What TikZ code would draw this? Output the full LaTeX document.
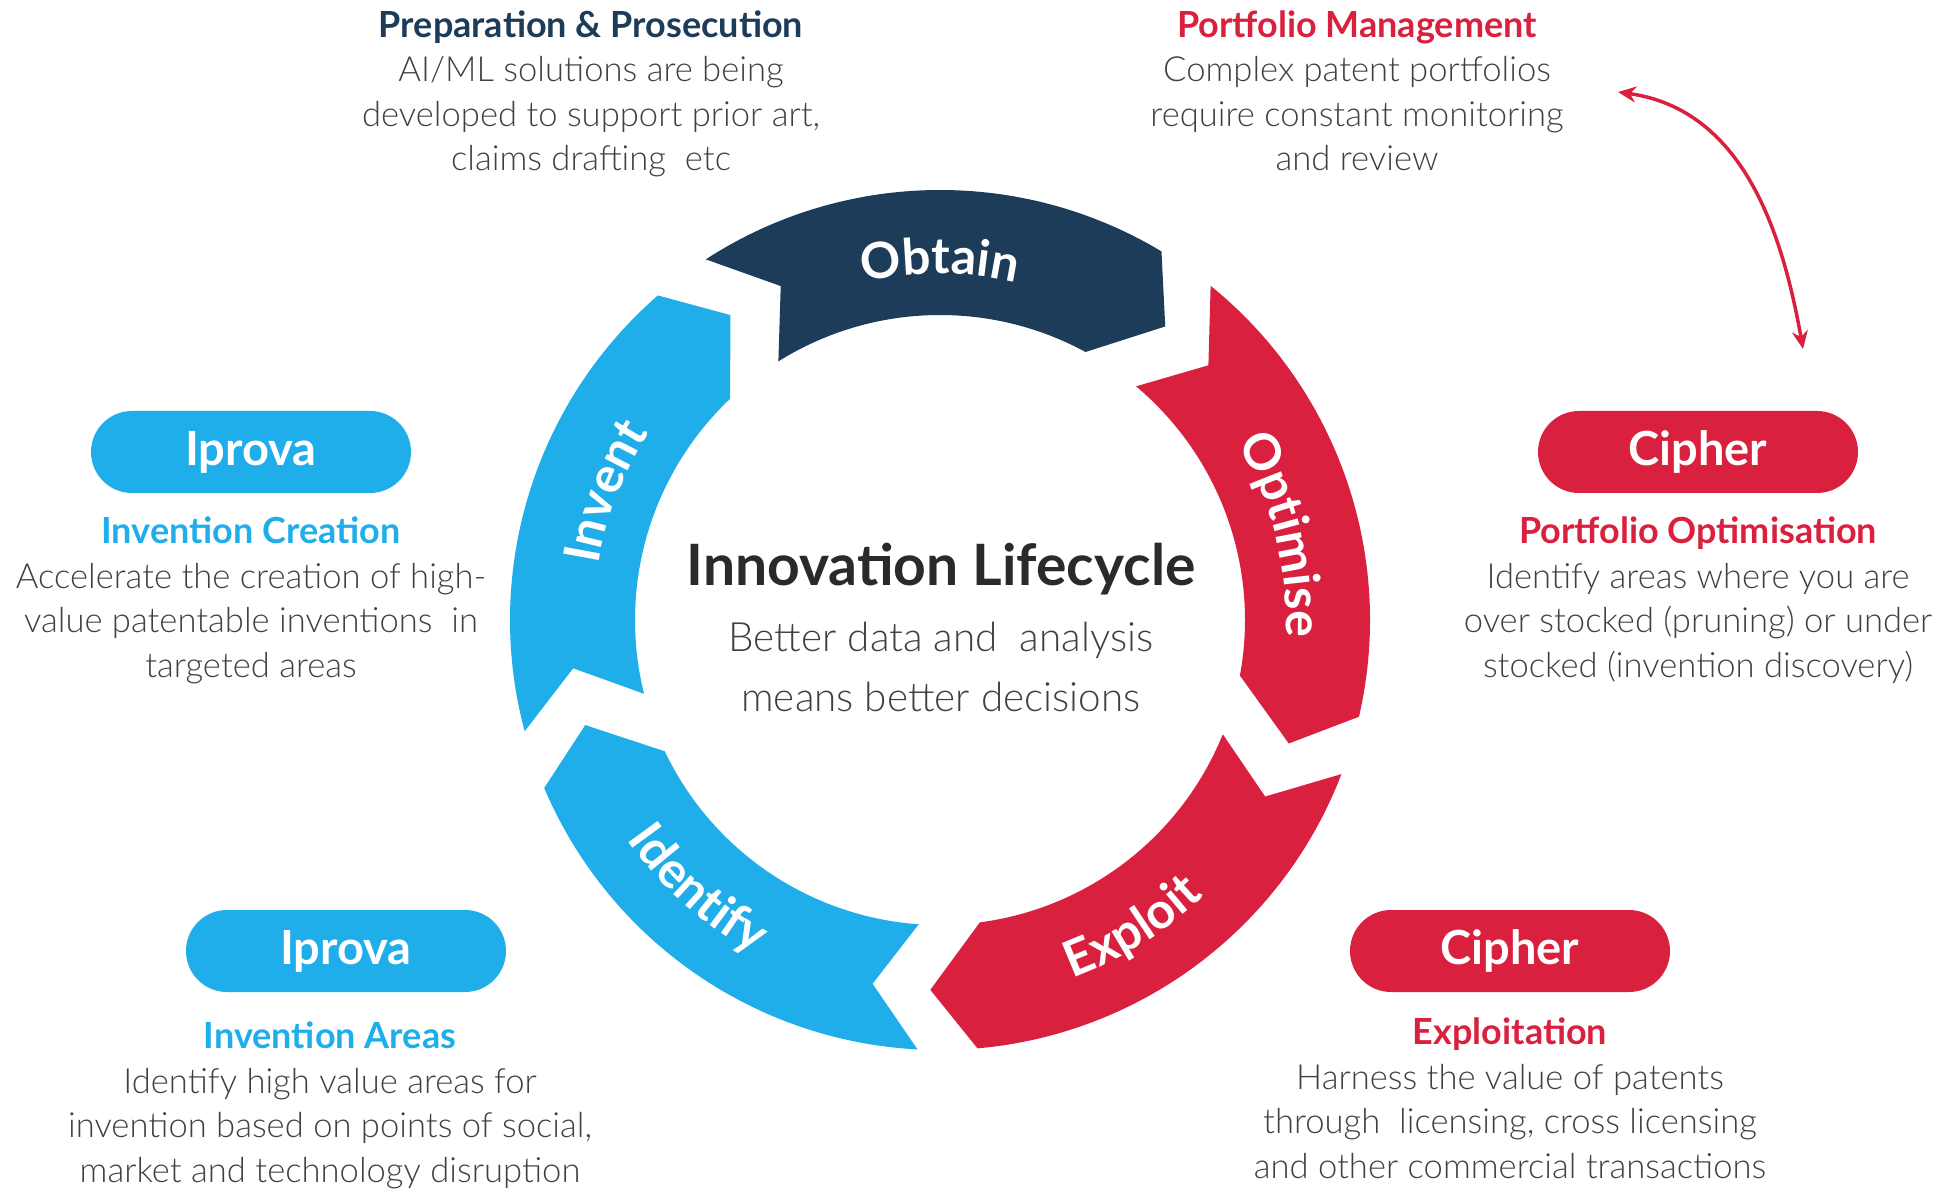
\documentclass[tikz,border=0pt]{standalone}
\usepackage{fontspec}
\setmainfont{Lato}
\newfontfamily\lightfont{Lato Light}
\newfontfamily\boldfont{Lato Bold}
\usetikzlibrary{arrows.meta,positioning,decorations.text,shapes.misc}

\definecolor{navy}{HTML}{1D3C5A}
\definecolor{skyblue}{HTML}{1FAEEA}
\definecolor{cherry}{HTML}{D9203F}
\definecolor{bodygray}{HTML}{404040}
\definecolor{titlegray}{HTML}{2A2A2A}

\newcommand{\segfont}{\boldfont\fontsize{25}{25}\selectfont}
\newcommand{\headfont}{\boldfont\fontsize{18}{22.3}\selectfont}

\begin{document}
\begin{tikzpicture}[x=0.5pt, y=0.5pt,
	pill/.style={rounded rectangle, minimum width=160pt, minimum height=41pt, inner sep=0pt,
		text=white, font=\boldfont\fontsize{23.5}{23.5}\selectfont},
	info/.style={align=center, inner sep=0pt, text=bodygray,
		font=\lightfont\fontsize{17.3}{22.3}\selectfont},
	seglabel/.style={decorate, decoration={text along path, text color=white, text align=center}}
	]
	\useasboundingbox (0,0) rectangle (1952,1189);
	\coordinate (hub) at (940,569);

	% the five arrows of the cycle
	\begin{scope}[shift={(hub)}]
		\foreach \T/\col in {123/navy, 195/skyblue, 267/skyblue, 339/cherry, 411/cherry}
			\fill[\col] (\T:430) arc[start angle=\T, end angle=\T-64, radius=430]
				-- ({\T-70.5}:370) -- ({\T-61.5}:305)
				arc[start angle=\T-61.5, end angle=\T-1, radius=305]
				-- ({\T-7.5}:370) -- cycle;
		\path[seglabel, decoration={text={|\segfont|Obtain}}] (120:346) arc[start angle=120, end angle=60, radius=346];
		\path[seglabel, decoration={text={|\segfont|Invent}}] (189:346) arc[start angle=189, end angle=129, radius=346];
		\path[seglabel, decoration={text={|\segfont|Optimise}}] (44:346) arc[start angle=44, end angle=-16, radius=346];
		\path[seglabel, decoration={text={|\segfont|Identify}}] (198:382) arc[start angle=198, end angle=258, radius=382];
		\path[seglabel, decoration={text={|\segfont|Exploit}}] (272:382) arc[start angle=272, end angle=332, radius=382];
	\end{scope}

	\node[font=\boldfont\fontsize{28.5}{28.5}\selectfont, text=titlegray] (title) at (941,620) {Innovation Lifecycle};
	\node[font=\lightfont\fontsize{20.2}{30}\selectfont, align=center, text=bodygray] (motto) at (941,522)
		{Better data and \ analysis\\means better decisions};

	% top notes
	\node[info, anchor=north] (prep) at (591,1179) {{\headfont\color{navy}Preparation \& Prosecution}\\
		AI/ML solutions are being\\developed to support prior art,\\claims drafting \ etc};
	\node[info, anchor=north] (manage) at (1357,1179) {{\headfont\color{cherry}Portfolio Management}\\
		Complex patent portfolios\\require constant monitoring\\and review};

	% partners
	\node[pill, fill=skyblue] (iprovaA) at (251,737) {Iprova};
	\node[pill, fill=cherry] (cipherA) at (1698,737) {Cipher};
	\node[pill, fill=skyblue] (iprovaB) at (346,238) {Iprova};
	\node[pill, fill=cherry] (cipherB) at (1510,238) {Cipher};

	\node[info, below=11.5pt of iprovaA] (creation) {{\headfont\color{skyblue}Invention Creation}\\
		Accelerate the creation of high-\\value patentable inventions \ in\\targeted areas};
	\node[info, below=11.5pt of cipherA] (optimisation) {{\headfont\color{cherry}Portfolio Optimisation}\\
		Identify areas where you are\\over stocked (pruning) or under\\stocked (invention discovery)};
	\node[info, below=14.5pt of iprovaB, xshift=-8pt] (areas) {{\headfont\color{skyblue}Invention Areas}\\
		Identify high value areas for\\invention based on points of social,\\market and technology disruption};
	\node[info, below=12.5pt of cipherB] (exploitation) {{\headfont\color{cherry}Exploitation}\\
		Harness the value of patents\\through \ licensing, cross licensing\\and other commercial transactions};

	% review loop
	\coordinate (loopA) at (1618,1097);
	\coordinate (loopB) at (1803,840);
	\draw[cherry, line width=1.75pt, {Stealth[length=9pt,width=8pt]}-{Stealth[length=9pt,width=8pt]}]
		(loopA) to[out=-8, in=100] (loopB);
\end{tikzpicture}
\end{document}
